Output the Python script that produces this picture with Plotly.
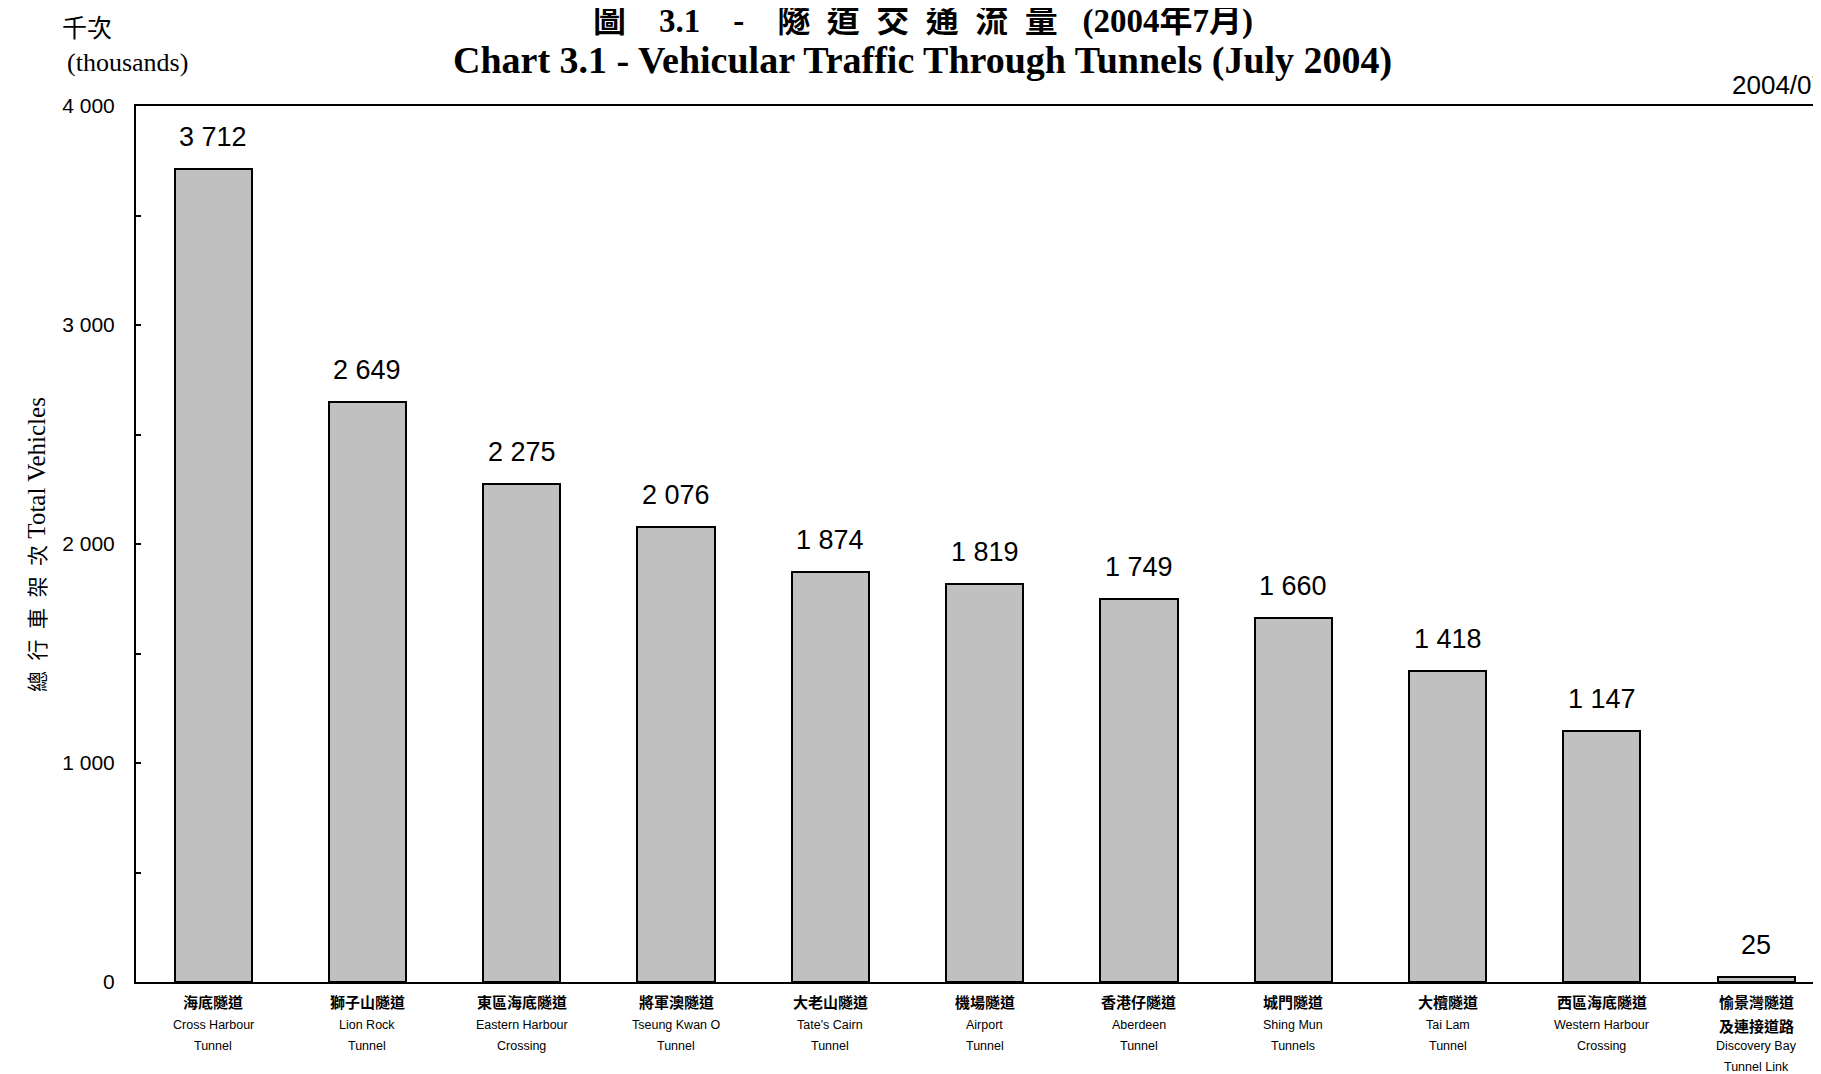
import plotly.graph_objects as go

# ---- data ----
tunnels_zh = ["海底隧道", "獅子山隧道", "東區海底隧道", "將軍澳隧道", "大老山隧道",
              "機場隧道", "香港仔隧道", "城門隧道", "大欖隧道", "西區海底隧道",
              "愉景灣隧道<br>及連接道路"]
tunnels_en = ["Cross Harbour<br>Tunnel", "Lion Rock<br>Tunnel", "Eastern Harbour<br>Crossing",
              "Tseung Kwan O<br>Tunnel", "Tate's Cairn<br>Tunnel", "Airport<br>Tunnel",
              "Aberdeen<br>Tunnel", "Shing Mun<br>Tunnels", "Tai Lam<br>Tunnel",
              "Western Harbour<br>Crossing", "Discovery Bay<br>Tunnel Link"]
vehicles = [3712, 2649, 2275, 2076, 1874, 1819, 1749, 1660, 1418, 1147, 25]
y_tickvals = [0, 1000, 2000, 3000, 4000]
y_ticktext = ["0", "1 000", "2 000", "3 000", "4 000"]

def fmt(v):
    return f"{v:,}".replace(",", " ")

SANS = "Liberation Sans, Arial, Noto Sans CJK TC"
SERIF = "Liberation Serif, Times New Roman, Noto Sans CJK TC"
CJK = "Noto Sans CJK TC"

x = list(range(len(vehicles)))

fig = go.Figure()
fig.add_trace(go.Bar(
    x=x, y=vehicles, width=0.5,
    marker=dict(color="#C0C0C0", line=dict(color="black", width=2)),
    hoverinfo="skip",
))

annotations = []
# value labels
for xi, v in zip(x, vehicles):
    annotations.append(dict(x=xi, y=v, xref="x", yref="y", text=fmt(v), showarrow=False,
                            yanchor="middle", yshift=32,
                            font=dict(family=SANS, size=27, color="black")))
# category labels (lines)
offsets = [19, 43, 64, 85]
for xi, zh, en in zip(x, tunnels_zh, tunnels_en):
    lines = [(l, CJK, 15, True) for l in zh.split("<br>")] + [(l, SANS, 12.5, False) for l in en.split("<br>")]
    for i, (txt, fam, sz, bold) in enumerate(lines):
        annotations.append(dict(x=xi, y=0, xref="x", yref="y",
                                text=f"<b>{txt}</b>" if bold else txt,
                                showarrow=False, yanchor="middle", yshift=-offsets[i],
                                font=dict(family=fam, size=sz, color="black")))

# titles and misc text
nb = "\u00a0"
es = "\u2002"
annotations += [
    dict(x=0.467, y=1.097, xref="paper", yref="paper", showarrow=False, yanchor="middle",
         text=(f"<b>圖{nb*4}3.1{nb*4}-{nb*4}隧{es}道{es}交{es}通{es}流{es}量{nb*3}"
               f"(2004年7月)</b>"),
         font=dict(family=SERIF, size=33, color="black")),
    dict(x=0.467, y=1.0525, xref="paper", yref="paper", showarrow=False, yanchor="middle",
         text="<b>Chart 3.1 - Vehicular Traffic Through Tunnels (July 2004)</b>",
         font=dict(family=SERIF, size=38, color="black")),
    dict(x=-0.045, y=1.091, xref="paper", yref="paper", showarrow=False, yanchor="middle",
         text="千次", font=dict(family=CJK, size=25, color="black")),
    dict(x=-0.042, y=1.050, xref="paper", yref="paper", showarrow=False, yanchor="middle",
         text="(thousands)", font=dict(family=SERIF, size=26, color="black")),
    dict(x=0.946, y=1.024, xref="paper", yref="paper", showarrow=False, yanchor="middle",
         xanchor="left", text="2004/07", font=dict(family=SANS, size=26, color="black")),
    dict(x=-0.0695, y=0.5, xref="paper", yref="paper", showarrow=False, textangle=-90,
         text=(f"<span style='font-family:{CJK};font-size:21px'>總{es}行{es}車{es}架{es}次</span>"
               " Total Vehicles"),
         font=dict(family=SERIF, size=25, color="black")),
]

fig.update_layout(
    width=1813, height=1066,
    margin=dict(l=128, r=0, t=98, b=92),
    paper_bgcolor="white", plot_bgcolor="white",
    showlegend=False,
    annotations=annotations,
    bargap=0,
)
fig.update_xaxes(
    range=[-0.5, 10.42], showgrid=False, zeroline=False,
    showline=True, linecolor="black", linewidth=2, mirror=True,
    showticklabels=False, ticks="",
)
fig.update_yaxes(
    range=[0, 4000], showgrid=False, zeroline=False,
    showline=True, linecolor="black", linewidth=2,
    tickvals=y_tickvals, ticktext=y_ticktext,
    ticks="inside", ticklen=5, tickwidth=2, tickcolor="black",
    minor=dict(dtick=500, ticks="inside", ticklen=5, tickwidth=2, tickcolor="black"),
    tickfont=dict(family=SANS, size=21, color="black"),
    ticklabelstandoff=15,
)

fig.write_html("out.html")
